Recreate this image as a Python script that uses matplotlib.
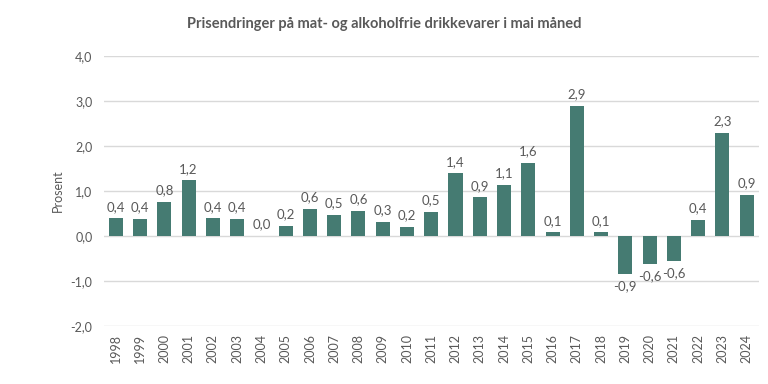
import matplotlib.pyplot as plt

plt.rcParams['font.family'] = ['Lato', 'DejaVu Sans']

# Data (bar heights and their printed labels)
years = [str(y) for y in range(1998, 2025)]
values = [0.39, 0.38, 0.76, 1.24, 0.39, 0.38, 0.0, 0.23, 0.60, 0.47,
          0.56, 0.32, 0.21, 0.54, 1.39, 0.86, 1.13, 1.63, 0.08, 2.90,
          0.08, -0.85, -0.63, -0.56, 0.36, 2.30, 0.91]
labels = ['0,4', '0,4', '0,8', '1,2', '0,4', '0,4', '0,0', '0,2', '0,6', '0,5',
          '0,6', '0,3', '0,2', '0,5', '1,4', '0,9', '1,1', '1,6', '0,1', '2,9',
          '0,1', '-0,9', '-0,6', '-0,6', '0,4', '2,3', '0,9']
yticks = [-2, -1, 0, 1, 2, 3, 4]

bar_color = '#457b72'
text_color = '#595959'

fig = plt.figure(figsize=(7.68, 3.84), dpi=100)
ax = fig.add_axes([0.135, 0.151, 0.853, 0.703])

x = range(len(years))
bars = ax.bar(x, values, width=0.58, color=bar_color, zorder=3)

# data labels at the outside end of each bar
for i, (v, lab) in enumerate(zip(values, labels)):
    if v >= 0:
        ax.annotate(lab, (i, v), xytext=(0, 4), textcoords='offset points',
                    ha='center', va='bottom', fontsize=9.5, color=text_color)
    else:
        ax.annotate(lab, (i, v), xytext=(0, -4), textcoords='offset points',
                    ha='center', va='top', fontsize=9.5, color=text_color)

ax.set_xlim(-0.5, len(years) - 0.5)
ax.set_ylim(-2, 4)
ax.set_yticks(yticks)
ax.set_yticklabels([f'{t:.1f}'.replace('.', ',') for t in yticks])
ax.set_xticks(list(x))
ax.set_xticklabels(years, rotation=90)
ax.tick_params(axis='both', length=0, colors=text_color, labelsize=9)
ax.tick_params(axis='x', pad=6)
ax.tick_params(axis='y', pad=8)

ax.grid(axis='y', color='#d9d9d9', linewidth=1, zorder=0)
for s in ax.spines.values():
    s.set_visible(False)

ax.set_ylabel('Prosent', color=text_color, fontsize=9, labelpad=5)
fig.text(0.5, 0.937, 'Prisendringer på mat- og alkoholfrie drikkevarer i mai måned',
         ha='center', va='center', fontsize=10.5, fontweight='bold', color=text_color)

fig.savefig('out.png', dpi=100)
